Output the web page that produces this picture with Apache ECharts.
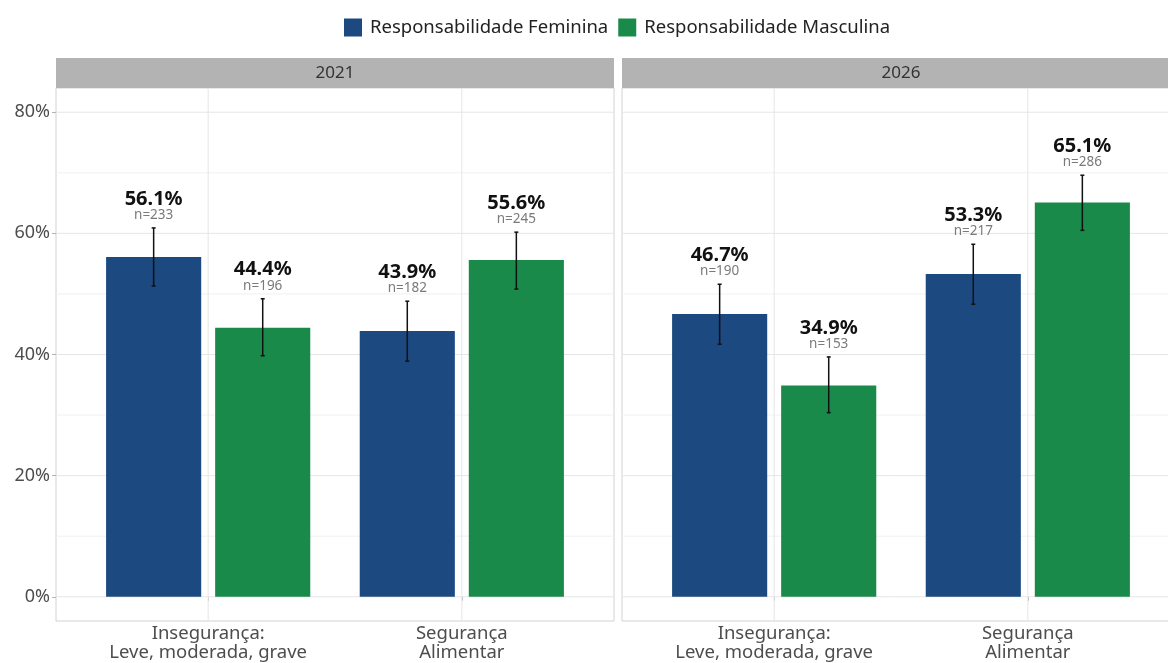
<!DOCTYPE html>
<html><head><meta charset="utf-8">
<script src="https://cdn.jsdelivr.net/npm/echarts@6/dist/echarts.min.js"></script>
<style>html,body{margin:0;padding:0;background:#fff}#c{width:1168px;height:663px}</style>
</head><body><div id="c"></div>
<script>
const years = ['2021', '2026'];
const categories = ['Insegurança:\nLeve, moderada, grave', 'Segurança\nAlimentar'];
const groups = ['Responsabilidade Feminina', 'Responsabilidade Masculina'];
const yTicks = [0, 20, 40, 60, 80];
const yMinorTicks = [10, 30, 50, 70];
const xTicks = [1, 2];

// 2021
const fem2021 = [56.1, 43.9];
const fem2021Low = [51.3, 38.9];
const fem2021High = [60.9, 48.8];
const fem2021N = [233, 182];
const masc2021 = [44.4, 55.6];
const masc2021Low = [39.8, 50.8];
const masc2021High = [49.2, 60.2];
const masc2021N = [196, 245];
// 2026
const fem2026 = [46.7, 53.3];
const fem2026Low = [41.7, 48.3];
const fem2026High = [51.6, 58.2];
const fem2026N = [190, 217];
const masc2026 = [34.9, 65.1];
const masc2026Low = [30.4, 60.5];
const masc2026High = [39.6, 69.6];
const masc2026N = [153, 286];

const COLORS = ['#1b4980', '#1a8a4a'];
const FONT = '"Noto Sans", "Open Sans", sans-serif';
const BW = 0.375, OFF = 0.215;

const panelData = [
  [[fem2021, fem2021Low, fem2021High, fem2021N], [masc2021, masc2021Low, masc2021High, masc2021N]],
  [[fem2026, fem2026Low, fem2026High, fem2026N], [masc2026, masc2026Low, masc2026High, masc2026N]]
];

function barRender(offset, color) {
  return function (params, api) {
    const x = api.value(0) + offset;
    const v = api.value(1), lo = api.value(2), hi = api.value(3), n = api.value(4);
    const bl = api.coord([x - BW / 2, 0]);
    const tr = api.coord([x + BW / 2, v]);
    const pLo = api.coord([x, lo]);
    const pHi = api.coord([x, hi]);
    return {
      type: 'group', children: [
        { type: 'rect', shape: { x: bl[0], y: tr[1], width: tr[0] - bl[0], height: bl[1] - tr[1] }, style: { fill: color } },
        { type: 'line', shape: { x1: pLo[0], y1: pLo[1], x2: pHi[0], y2: pHi[1] }, style: { stroke: '#111', lineWidth: 1.5 } },
        { type: 'line', shape: { x1: pLo[0] - 2, y1: pLo[1], x2: pLo[0] + 2, y2: pLo[1] }, style: { stroke: '#111', lineWidth: 1.5 } },
        { type: 'line', shape: { x1: pHi[0] - 2, y1: pHi[1], x2: pHi[0] + 2, y2: pHi[1] }, style: { stroke: '#111', lineWidth: 1.5 } },
        { type: 'text', style: { text: v.toFixed(1) + '%', x: pHi[0], y: pHi[1] - 29, align: 'center', verticalAlign: 'middle', fontFamily: FONT, fontWeight: 'bold', fontSize: 20, fill: '#111' } },
        { type: 'text', style: { text: 'n=' + n, x: pHi[0], y: pHi[1] - 13, align: 'center', verticalAlign: 'middle', fontFamily: FONT, fontSize: 13.5, fill: '#7a7a7a' } }
      ]
    };
  };
}

function gridRender(kind) {
  return function (params, api) {
    const cs = params.coordSys;
    const v = api.value(0);
    if (kind === 'v') {
      const p = api.coord([v, 0]);
      return { type: 'line', shape: { x1: p[0], y1: cs.y, x2: p[0], y2: cs.y + cs.height }, style: { stroke: '#e6e6e6', lineWidth: 1 } };
    }
    const p = api.coord([1, v]);
    return { type: 'line', shape: { x1: cs.x, y1: p[1], x2: cs.x + cs.width, y2: p[1] }, style: { stroke: kind === 'h' ? '#e6e6e6' : '#f1f1f1', lineWidth: 1 } };
  };
}

const gridLefts = [56, 622];
const grids = gridLefts.map(l => ({ left: l, top: 88, width: 558, height: 533, outerBoundsMode: 'none', containLabel: false, show: true, borderColor: '#d2d2d2', borderWidth: 1, backgroundColor: '#fff' }));

const xAxes = years.map((y, i) => ({
  type: 'value', gridIndex: i, min: 0.4, max: 2.6,
  axisLine: { show: false }, splitLine: { show: false },
  axisTick: { show: true, customValues: xTicks, length: 4, lineStyle: { color: '#b3b3b3' } },
  axisLabel: { customValues: xTicks, formatter: v => categories[Math.round(v) - 1] || '', fontFamily: FONT, fontSize: 18.5, color: '#4d4d4d', lineHeight: 19, margin: 3 }
}));
const yAxes = years.map((y, i) => ({
  type: 'value', gridIndex: i, min: -4, max: 84,
  axisLine: { show: false }, splitLine: { show: false },
  axisTick: { show: i === 0, customValues: yTicks, length: 4, lineStyle: { color: '#b3b3b3' } },
  axisLabel: { show: i === 0, customValues: yTicks, formatter: '{value}%', fontFamily: FONT, fontSize: 18, color: '#4d4d4d', margin: 6 }
}));

const series = [];
years.forEach((y, i) => {
  series.push({ type: 'custom', xAxisIndex: i, yAxisIndex: i, silent: true, z: 1, data: yMinorTicks.map(v => [v, v]), renderItem: gridRender('hm') });
  series.push({ type: 'custom', xAxisIndex: i, yAxisIndex: i, silent: true, z: 1, data: yTicks.map(v => [v, v]), renderItem: gridRender('h') });
  series.push({ type: 'custom', xAxisIndex: i, yAxisIndex: i, silent: true, z: 1, data: xTicks.map(v => [v, v]), renderItem: gridRender('v') });
  groups.forEach((g, gi) => {
    const [vals, lows, highs, ns] = panelData[i][gi];
    series.push({
      name: g, type: 'custom', xAxisIndex: i, yAxisIndex: i, z: 2,
      itemStyle: { color: COLORS[gi] },
      data: vals.map((v, k) => [xTicks[k], v, lows[k], highs[k], ns[k]]),
      encode: { x: 0, y: 1 },
      renderItem: barRender(gi === 0 ? -OFF : OFF, COLORS[gi])
    });
  });
});

const graphic = years.map((y, i) => ({
  type: 'group', children: [
    { type: 'rect', shape: { x: gridLefts[i], y: 58, width: 558, height: 30 }, style: { fill: '#b3b3b3' } },
    { type: 'text', style: { text: y, x: gridLefts[i] + 279, y: 73, align: 'center', verticalAlign: 'middle', fontFamily: FONT, fontSize: 17, fill: '#333' } }
  ]
}));

const chart = echarts.init(document.getElementById('c'), null, { renderer: 'canvas' });
chart.setOption({
  animation: false,
  backgroundColor: '#fff',
  legend: { data: groups, left: 339, top: 13, icon: 'rect', itemWidth: 18, itemHeight: 18, itemGap: 10, textStyle: { fontFamily: FONT, fontSize: 18.5, color: '#222', padding: [0, 0, 0, 3] } },
  grid: grids, xAxis: xAxes, yAxis: yAxes, series, graphic
});
</script></body></html>
